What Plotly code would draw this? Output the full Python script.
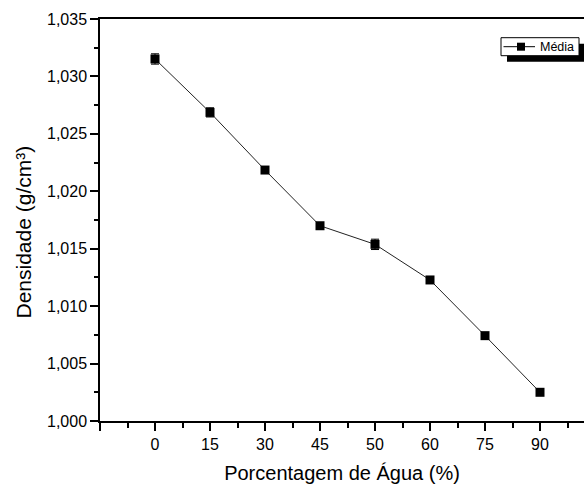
import plotly.graph_objects as go

# Data
agua_pct = ["0", "15", "30", "45", "50", "60", "75", "90"]
densidade = [1.03152, 1.02687, 1.02185, 1.01700, 1.01538, 1.01228, 1.00743, 1.00250]
erro = [0.00045, 0.00040, 0.00025, 0.00015, 0.00045, 0.00015, 0.00015, 0.00015]
y_ticks = [1.000, 1.005, 1.010, 1.015, 1.020, 1.025, 1.030, 1.035]
serie_nome = "Média"
x_titulo = "Porcentagem de Água (%)"
y_titulo = "Densidade (g/cm³)"

xpos = list(range(len(agua_pct)))

W, H = 584, 484
ML, MR, MT, MB = 100, 0, 19, 63
pw, ph = W - ML - MR, H - MT - MB

def px(x):
    return (x - ML) / pw

def py(y):
    return (H - MB - y) / ph

fig = go.Figure()
fig.add_trace(go.Scatter(
    x=xpos, y=densidade, mode="lines+markers", name=serie_nome,
    line=dict(color="#222222", width=1),
    marker=dict(symbol="square", size=9, color="black"),
    error_y=dict(type="data", array=erro, visible=True, color="black",
                 thickness=1, width=4),
    showlegend=False,
))

# manual legend (Origin style with drop shadow)
bx0, bx1, by0, by1 = 501, 579, 37.7, 55.7
sh = 6
fig.add_shape(type="rect", xref="paper", yref="paper",
              x0=px(bx0 + sh), x1=px(bx1 + sh + 10), y0=py(by1 + sh), y1=py(by0 + sh),
              fillcolor="black", line=dict(width=0), layer="above")
fig.add_shape(type="rect", xref="paper", yref="paper",
              x0=px(bx0), x1=px(bx1), y0=py(by1), y1=py(by0),
              fillcolor="white", line=dict(color="black", width=1), layer="above")
cy = (by0 + by1) / 2
fig.add_shape(type="line", xref="paper", yref="paper",
              x0=px(503.5), x1=px(535), y0=py(cy), y1=py(cy),
              line=dict(color="black", width=1), layer="above")
fig.add_shape(type="rect", xref="paper", yref="paper",
              x0=px(517), x1=px(525), y0=py(cy + 4), y1=py(cy - 4),
              fillcolor="black", line=dict(width=0), layer="above")
font_family = "Liberation Sans, Arial, sans-serif"
fig.add_annotation(xref="paper", yref="paper", x=px(537.5), y=py(cy),
                   xanchor="left", yanchor="middle", showarrow=False,
                   text=serie_nome, font=dict(size=12.5, family=font_family, color="black"))

# y-axis title (positioned like the reference)
fig.add_annotation(xref="paper", yref="paper", x=px(22.5), y=py(232),
                   xanchor="center", yanchor="middle", showarrow=False,
                   textangle=-90, text=y_titulo,
                   font=dict(size=21, family=font_family, color="black"))

fig.update_layout(
    width=W, height=H,
    margin=dict(l=ML, r=MR, t=MT, b=MB),
    paper_bgcolor="white", plot_bgcolor="white",
    separators=",.",
    font=dict(family=font_family, color="black", size=16),
    showlegend=False,
    xaxis=dict(
        range=[-1, 7.8], tickmode="array",
        tickvals=[-1] + xpos, ticktext=[""] + agua_pct,
        showline=True, linecolor="black", linewidth=1.5, mirror=True,
        ticks="outside", ticklen=8, tickwidth=1.5, tickcolor="black",
        minor=dict(tickvals=[i + 0.5 for i in range(-1, len(xpos))],
                   ticks="outside", ticklen=5, tickwidth=1.5, tickcolor="black"),
        showgrid=False, zeroline=False,
        tickfont=dict(size=16),
        title=dict(text=x_titulo, font=dict(size=20), standoff=14),
    ),
    yaxis=dict(
        range=[1.000, 1.035], tickmode="array", tickvals=y_ticks,
        tickformat=".3f",
        showline=True, linecolor="black", linewidth=1.5,
        ticks="outside", ticklen=8, tickwidth=1.5, tickcolor="black",
        minor=dict(tickvals=[v + 0.0025 for v in y_ticks[:-1]],
                   ticks="outside", ticklen=4, tickwidth=1.5, tickcolor="black"),
        showgrid=False, zeroline=False,
        tickfont=dict(size=16),
    ),
)

fig.write_html("out.html")
